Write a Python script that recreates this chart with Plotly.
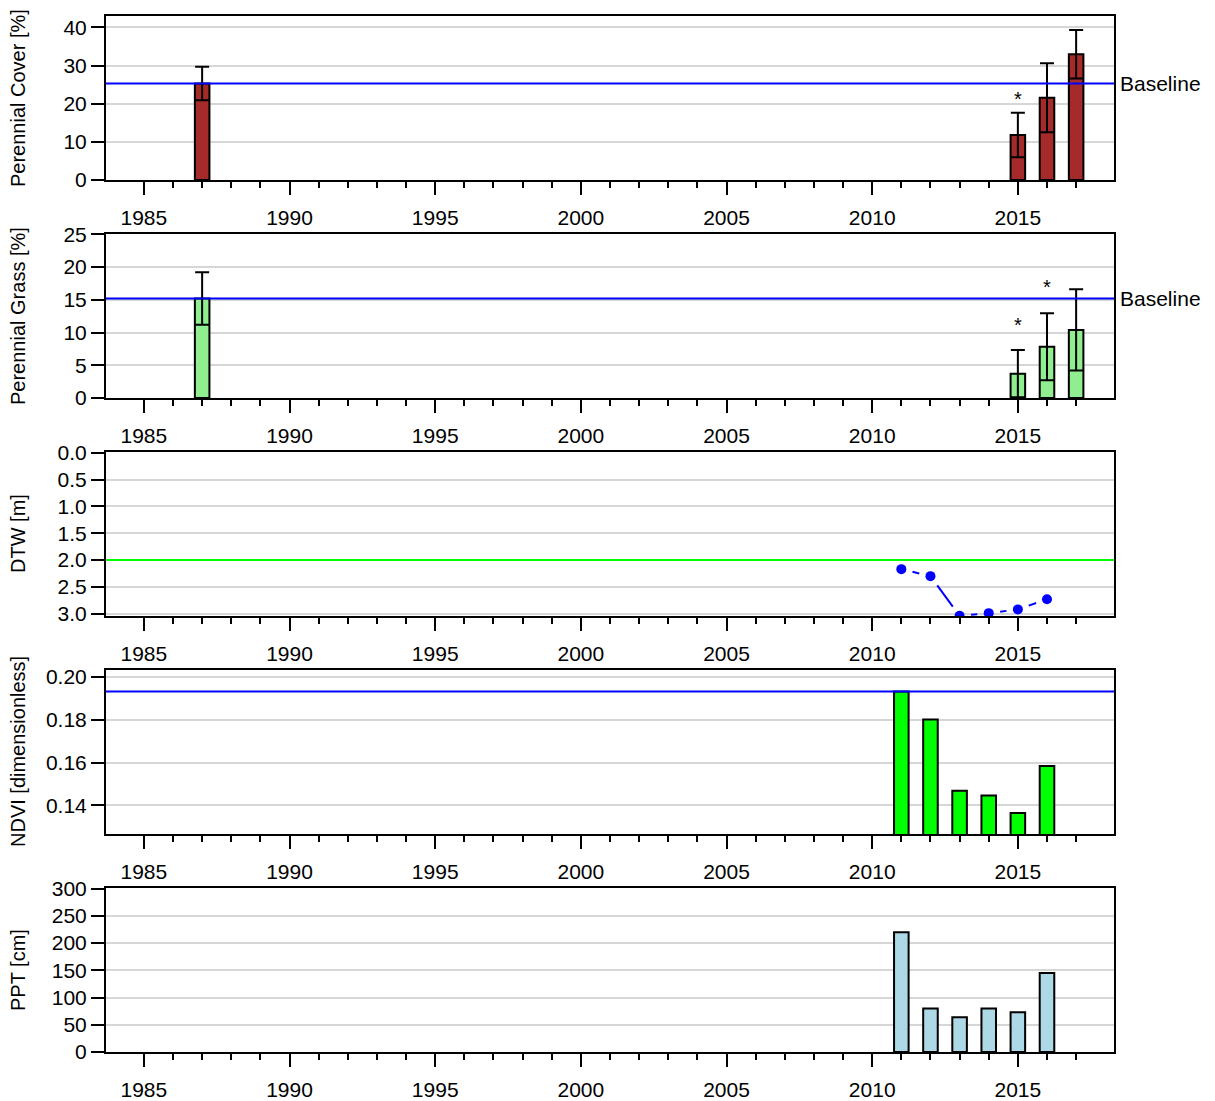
import math

import plotly.graph_objects as go

# ---- data ----
years_cover = [1987, 2015, 2016, 2017]
cover_mean = [25.3, 11.8, 21.55, 32.95]
cover_sd = [4.4, 5.85, 9.05, 6.35]
cover_baseline = 25.3
cover_sig_years = [2015]
cover_sig_y = [21.4]

grass_mean = [15.2, 3.72, 7.83, 10.4]
grass_sd = [4.0, 3.6, 5.1, 6.2]
grass_baseline = 15.2
grass_sig_years = [2015, 2016]
grass_sig_y = [11.3, 17.05]

years_ts = [2011, 2012, 2013, 2014, 2015, 2016]
dtw = [2.17, 2.30, 3.04, 2.99, 2.92, 2.73]
dtw_threshold = 2.0

ndvi = [0.1931, 0.180, 0.1468, 0.1446, 0.1365, 0.1584]
ndvi_baseline = 0.1931

ppt = [220, 80, 64, 80, 73, 145]

# ---- layout geometry (pixels, as seen on the page) ----
OFF = 8  # default body margin of the html page
W, H = 1215 - OFF, 1101 - OFF
L, R = 106 - OFF, 1114 - OFF
T, B = 16 - OFF, 1052 - OFF
panel_h = 164
step = 218
xr = [1983.7, 2018.3]

FONT = "Arial, Liberation Sans, Helvetica, sans-serif"
FS = 21
GRID = "#d6d6d6"


def dom(i):
    top = T + i * step
    bot = top + panel_h
    return [(B - bot) / (B - T), (B - top) / (B - T)]


yaxes = [
    dict(title="Perennial Cover [%]", range=[0, 43], dtick=10, tick0=0),
    dict(title="Perennial Grass [%]", range=[0, 25.05], dtick=5, tick0=0),
    dict(title="DTW [m]", range=[3.043, -0.013], dtick=0.5, tick0=0, tickformat=".1f"),
    dict(title="NDVI [dimensionless]", range=[0.1267, 0.2031], dtick=0.02, tick0=0.14, tickformat=".2f"),
    dict(title="PPT [cm]", range=[0, 301], dtick=50, tick0=0),
]

fig = go.Figure()

bar_line = dict(color="black", width=2)
err = lambda sd: dict(type="data", array=sd, visible=True, color="black", thickness=2, width=7)

fig.add_trace(go.Bar(x=years_cover, y=cover_mean, width=0.5, marker=dict(color="#A52A2A", line=bar_line),
                     error_y=err(cover_sd), xaxis="x", yaxis="y"))
fig.add_trace(go.Bar(x=years_cover, y=grass_mean, width=0.5, marker=dict(color="#90EE90", line=bar_line),
                     error_y=err(grass_sd), xaxis="x2", yaxis="y2"))

# DTW: points joined by lines that stop short of each point (like R type="b")
xs_px = (R - L) / (xr[1] - xr[0])
ys_px = panel_h / abs(yaxes[2]["range"][0] - yaxes[2]["range"][1])
gap = 11.5
seg_x, seg_y = [], []
for i in range(len(years_ts) - 1):
    dx = years_ts[i + 1] - years_ts[i]
    dy = dtw[i + 1] - dtw[i]
    d = math.hypot(dx * xs_px, dy * ys_px)
    if d <= 2 * gap:
        continue
    f = gap / d
    seg_x += [years_ts[i] + dx * f, years_ts[i + 1] - dx * f, None]
    seg_y += [dtw[i] + dy * f, dtw[i + 1] - dy * f, None]
fig.add_trace(go.Scatter(x=seg_x, y=seg_y, mode="lines", line=dict(color="#0000FF", width=2),
                         xaxis="x3", yaxis="y3"))
fig.add_trace(go.Scatter(x=years_ts, y=dtw, mode="markers", marker=dict(color="#0000FF", size=10),
                         xaxis="x3", yaxis="y3"))

fig.add_trace(go.Bar(x=years_ts, y=ndvi, width=0.5, marker=dict(color="#00FF00", line=bar_line),
                     xaxis="x4", yaxis="y4"))
fig.add_trace(go.Bar(x=years_ts, y=ppt, width=0.5, marker=dict(color="#ADD8E6", line=bar_line),
                     xaxis="x5", yaxis="y5"))

layout = dict(
    template="none",
    width=W, height=H,
    margin=dict(l=L, r=W - R, t=T, b=H - B, pad=0, autoexpand=False),
    paper_bgcolor="white", plot_bgcolor="white",
    showlegend=False,
    font=dict(family=FONT, size=FS, color="black"),
)

annotations = []
shapes = []
for i, ya in enumerate(yaxes):
    n = "" if i == 0 else str(i + 1)
    layout["xaxis" + n] = dict(
        domain=[0, 1], range=xr, anchor="y" + n, automargin=False,
        tickmode="array", tickvals=[1985, 1990, 1995, 2000, 2005, 2010, 2015],
        ticks="outside", ticklen=13, tickwidth=2, tickcolor="black",
        ticklabelstandoff=5,
        minor=dict(tickmode="array", tickvals=list(range(1985, 2018)), ticks="outside",
                   ticklen=6, tickwidth=2, tickcolor="black", showgrid=False),
        showline=True, linewidth=2, linecolor="black", mirror=True,
        showgrid=False, zeroline=False,
        tickfont=dict(size=FS, color="black"),
    )
    layout["yaxis" + n] = dict(
        domain=dom(i), range=ya["range"], anchor="x" + n, automargin=False,
        tickmode="linear", dtick=ya["dtick"], tick0=ya["tick0"],
        tickformat=ya.get("tickformat", ""),
        ticks="outside", ticklen=13, tickwidth=2, tickcolor="black",
        ticklabelstandoff=0,
        showline=True, linewidth=2, linecolor="black", mirror=True,
        showgrid=True, gridcolor=GRID, gridwidth=2, zeroline=False,
        tickfont=dict(size=FS, color="black"),
    )
    d = dom(i)
    annotations.append(dict(
        text=ya["title"], textangle=-90, xref="paper", yref="paper",
        x=-(L - (18 - OFF)) / (R - L), y=(d[0] + d[1]) / 2, xanchor="center", yanchor="middle",
        showarrow=False, font=dict(size=20, color="black"),
    ))

# reference lines
for n, val, col in [("", cover_baseline, "#0000FF"), ("2", grass_baseline, "#0000FF"),
                    ("3", dtw_threshold, "#00FF00"), ("4", ndvi_baseline, "#0000FF")]:
    shapes.append(dict(type="line", xref="x" + n + " domain" if n else "x domain", yref="y" + n,
                       x0=0, x1=1, y0=val, y1=val, line=dict(color=col, width=2), layer="above"))

for n, val in [("", cover_baseline), ("2", grass_baseline)]:
    annotations.append(dict(text="Baseline", xref="paper", yref="y" + n, x=1 + 4 / (R - L), y=val,
                            xanchor="left", yanchor="middle", showarrow=False,
                            font=dict(size=FS, color="black")))

for n, xs, ys in [("", cover_sig_years, cover_sig_y), ("2", grass_sig_years, grass_sig_y)]:
    for x, y in zip(xs, ys):
        annotations.append(dict(text="*", xref="x" + n, yref="y" + n, x=x, y=y,
                                xanchor="center", yanchor="middle", yshift=-1, showarrow=False,
                                font=dict(size=20, color="black")))

layout["annotations"] = annotations
layout["shapes"] = shapes
fig.update_layout(**layout)

fig.write_html("out.html")
